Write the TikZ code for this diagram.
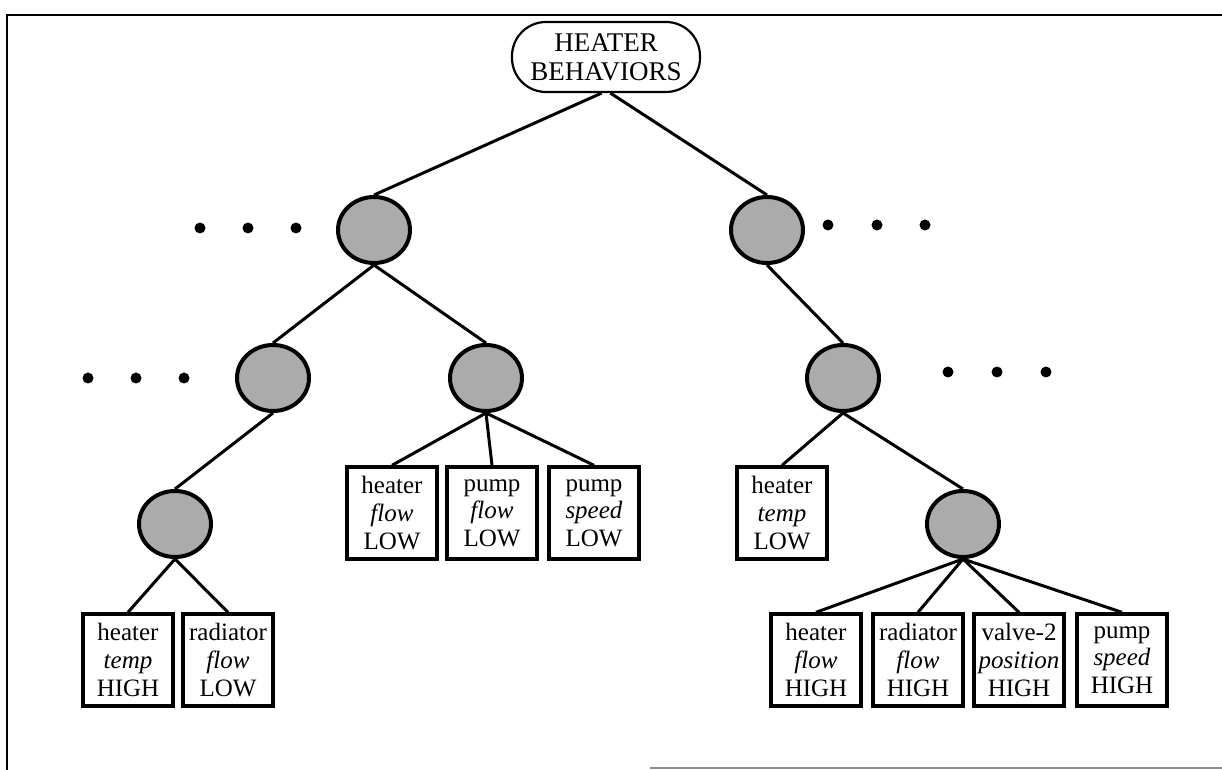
\documentclass[tikz,border=0pt]{standalone}
\usepackage{fontspec}
\setmainfont{Liberation Serif}
\usetikzlibrary{shapes.geometric}
\tikzset{
  px/.style={x=0.5pt,y=-0.5pt},
  rootbox/.style={draw,line width=1.1pt,rounded corners=17pt,minimum width=94pt,minimum height=35pt,align=center,font=\fontsize{13.5}{14.5}\selectfont,inner sep=0pt},
  hnode/.style={ellipse,draw,line width=2pt,minimum width=36pt,minimum height=33pt,fill=black!33,inner sep=0pt},
  leaf/.style={draw,line width=1.7pt,minimum width=45pt,minimum height=46pt,align=center,font=\fontsize{12.5}{13.8}\selectfont,inner sep=0pt},
  edge/.style={line width=1.5pt},
  dotmark/.style={circle,fill=black,inner sep=0pt,minimum size=5.5pt},
  frame/.style={line width=1.3pt}
}
\begin{document}
\begin{tikzpicture}[px]
\useasboundingbox (0,0) rectangle (1222,770);
\draw[frame] (1222,15) -- (7,15) -- (7,770);
\draw[black!45,line width=0.8pt] (650,768) -- (1222,768);

\node[rootbox] (root) at (606,57) {HEATER\\BEHAVIORS};

\node[hnode] (L1) at (374,230) {};
\node[hnode] (R1) at (767,230) {};
\node[hnode] (L2a) at (273,378) {};
\node[hnode] (L2b) at (486,378) {};
\node[hnode] (R2) at (843,378) {};
\node[hnode] (L3) at (175,524) {};
\node[hnode] (R3) at (963,524) {};

\node[leaf] (b1) at (128,660) {heater\\\textit{temp}\\HIGH};
\node[leaf] (b2) at (228,660) {radiator\\\textit{flow}\\LOW};
\node[leaf] (m1) at (392,513) {heater\\\textit{flow}\\LOW};
\node[leaf] (m2) at (492,513) {pump\\\textit{flow}\\LOW};
\node[leaf] (m3) at (594,513) {pump\\\textit{speed}\\LOW};
\node[leaf] (rm) at (782,513) {heater\\\textit{temp}\\LOW};
\node[leaf] (r1) at (816,660) {heater\\\textit{flow}\\HIGH};
\node[leaf] (r2) at (918,660) {radiator\\\textit{flow}\\HIGH};
\node[leaf] (r3) at (1019,660) {valve-2\\\textit{position}\\HIGH};
\node[leaf] (r4) at (1122,660) {pump\\\textit{speed}\\HIGH};

\draw[edge] (root.-97) -- (L1.north);
\draw[edge] (root.-83) -- (R1.north);
\draw[edge] (L1.south) -- (L2a.north);
\draw[edge] (L1.south) -- (L2b.north);
\draw[edge] (R1.south) -- (R2.north);
\draw[edge] (L2a.south) -- (L3.north);
\draw[edge] (L2b.south) -- (m1.north);
\draw[edge] (L2b.south) -- (m2.north);
\draw[edge] (L2b.south) -- (m3.north);
\draw[edge] (R2.south) -- (rm.north);
\draw[edge] (R2.south) -- (R3.north);
\draw[edge] (L3.south) -- (b1.north);
\draw[edge] (L3.south) -- (b2.north);
\draw[edge] (R3.south) -- (r1.north);
\draw[edge] (R3.south) -- (r2.north);
\draw[edge] (R3.south) -- (r3.north);
\draw[edge] (R3.south) -- (r4.north);

\foreach \x/\y [count=\i] in {200/228,248/228,296/228,828/225,877/225,925/225,88/378,136/378,184/378,948/372,997/372,1046/372}
  \node[dotmark] (d\i) at (\x,\y) {};
\end{tikzpicture}
\end{document}
